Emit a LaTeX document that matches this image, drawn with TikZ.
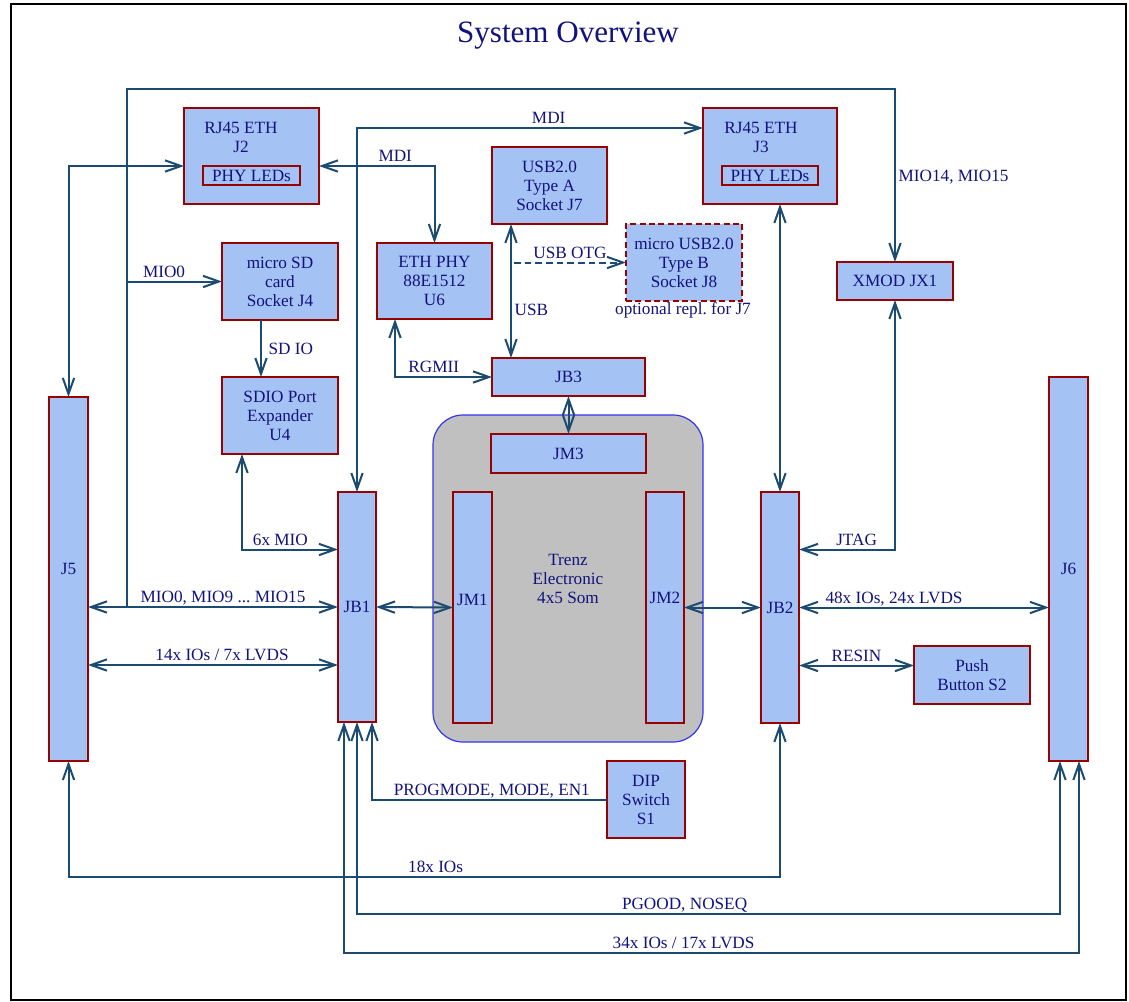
\documentclass[tikz,border=0pt]{standalone}
\usepackage{fontspec}
\setmainfont{Liberation Serif}
\usepackage{tikz}
\usetikzlibrary{arrows.meta,positioning,calc}
\definecolor{txtblue}{HTML}{12127E}
\definecolor{wire}{HTML}{1B4B70}
\definecolor{boxfill}{HTML}{A4C2F4}
\definecolor{boxline}{HTML}{990000}
\definecolor{somfill}{HTML}{C0C0C0}
\definecolor{somline}{HTML}{3535F0}
\frenchspacing
\tikzset{
  wh/.style 2 args={minimum width=#1*0.75pt, minimum height=#2*0.75pt},
  blk/.style={draw=boxline, fill=boxfill, line width=0.9pt, inner sep=0pt, outer sep=0pt, align=center},
  optblk/.style={blk, dash pattern=on 4.5pt off 2.5pt},
  som/.style={draw=somline, fill=somfill, line width=0.9pt, rounded corners=22.5pt, inner sep=0pt, outer sep=0pt, align=center},
  txt/.style={align=center, inner sep=0pt},
  conn/.style={draw=wire, line width=1.5pt},
  lbl/.style={anchor=south, text depth=0pt, inner xsep=0pt, inner ysep=2.6pt},
  lblr/.style={anchor=west, inner sep=2pt},
}

\begin{document}
\begin{tikzpicture}[x=0.75pt,y=0.75pt,yscale=-1,xscale=1,
    font=\fontsize{12.9}{14.25}\selectfont\frenchspacing, every node/.append style={text=txtblue},
    >={Straight Barb[length=12pt,width=8.5pt]}]
\useasboundingbox (0,0) rectangle (1129,1001);

%Shape: Frame
\draw [line width=1.5pt] (11,3.5) rectangle (1126,999.5);

% Title
\node [anchor=base, font=\fontsize{23.3}{28}\selectfont] (title) at (568,42.3) {System Overview};

% Ethernet jacks
\node [blk, wh={135}{96}] (J2) at (251.5,156) {};
\node [txt] (J2t) at (241,137.5) {RJ45 ETH\\J2};
\node [blk, wh={97}{19}] (J2led) at (251.5,175.5) {PHY LEDs};
\node [blk, wh={134}{96}] (J3) at (770,156) {};
\node [txt] (J3t) at (761,137.5) {RJ45 ETH\\J3};
\node [blk, wh={96}{19}] (J3led) at (770,175.5) {PHY LEDs};

% Upper blocks
\node [blk, wh={116}{77}] (J4) at (280,281.5) {micro SD\\card\\Socket J4};
\node [blk, wh={115}{76}] (U6) at (434.5,281) {ETH PHY\\88E1512\\U6};
\node [blk, wh={115}{77}] (J7) at (549.5,185.5) {USB2.0\\Type A\\Socket J7};
\node [optblk, wh={116}{77}] (J8) at (684,262.5) {micro USB2.0\\Type B\\Socket J8};
\node [txt] (J8note) at (683,310) {optional repl. for J7};
\node [blk, wh={116}{38}] (JX1) at (895,281) {XMOD JX1};
\node [blk, wh={153}{38}] (JB3) at (568.5,377) {JB3};
\node [blk, wh={116}{77}] (U4) at (280,415.5) {SDIO Port\\Expander\\U4};

% Side connectors
\node [blk, wh={39}{364}] (J5) at (68.5,579) {};
\node [txt] (J5t) at ($(J5.center)+(0,-10)$) {J5};
\node [blk, wh={39}{384}] (J6) at (1068.5,569) {J6};
\node [blk, wh={38}{230}] (JB1) at (357,607) {JB1};
\node [blk, wh={38}{231}] (JB2) at (780,607.5) {JB2};

% Module
\node [som, wh={270}{327}] (som) at (568,578.5) {Trenz\\Electronic\\4x5 Som};
\node [blk, wh={155}{39}] (JM3) at (568.5,453.5) {JM3};
\node [blk, wh={39}{231}] (JM1) at (472.5,607.5) {};
\node [txt] (JM1t) at ($(JM1.center)+(0,-7.5)$) {JM1};
\node [blk, wh={38}{231}] (JM2) at (665,607.5) {};
\node [txt] (JM2t) at ($(JM2.center)+(0,-9.5)$) {JM2};

% Switches
\node [blk, wh={116}{58}] (S2) at (972,675) {Push\\Button S2};
\node [blk, wh={78}{77}] (S1) at (646,799.5) {DIP\\Switch\\S1};

% helper points
\coordinate (miox) at ($(J5.east)+(39,0)$);
\coordinate (mioTop) at (127,89);
\coordinate (otg) at ($(J7.south west)+(22,0)$);
\coordinate (lvds) at ($(JB1.west)+(0,58)$);
\coordinate (resin) at ($(JB2.east)+(0,58)$);
\coordinate (jb1a) at ($(JB1.south)+(-13,0)$);
\coordinate (jb1c) at ($(JB1.south)+(15,0)$);
\coordinate (pgj6) at ($(J6.south)+(-8.5,0)$);
\coordinate (j6b) at ($(J6.south)+(10.5,0)$);
\coordinate (row18) at ($(J5.south)+(0,116)$);
\coordinate (rowPG) at ($(JB1.south)+(0,192)$);
\coordinate (row34) at ($(JB1.south)+(0,231)$);

% Connectors top
\draw [conn,<->] (J5.north) |- ($(J2.west)+(0,10)$);
\draw [conn,<->] ($(J2.east)+(0,10)$) -| (U6.north) node [lbl,pos=0.33] {MDI};
\draw [conn,<->] (JB1.north) |- ($(J3.west)+(0,-28)$) node [lbl,pos=0.777] {MDI};
\draw [conn,->] (miox |- JB1.west) -- (mioTop) -| (JX1.north) node [lblr,pos=0.754] {MIO14, MIO15};
\draw [conn,->] (miox |- J4.west) -- (J4.west) node [lbl,pos=0.39] {MIO0};
\draw [conn,->] ($(J4.south west)+(39,0)$) -- ($(U4.north west)+(39,0)$) node [lblr,midway,inner xsep=5pt] {SD IO};
\draw [conn,<->] ($(U6.south west)+(18,0)$) |- (JB3.west) node [lbl,pos=0.70] {RGMII};
\draw [conn,<->] ($(J7.south west)+(19,0)$) -- ($(JB3.north west)+(19,0)$) node [lblr,pos=0.64] {USB};
\draw [conn,->,dash pattern=on 5pt off 3pt] (otg |- J8.west) -- (J8.west) node [lbl,midway] {USB OTG};
\draw [conn,<->] (JB2.north |- J3.south) -- (JB2.north);
\draw [conn,<->] (JB3.south) -- (JM3.north);

% Connectors middle
\draw [conn,<->] ($(U4.south west)+(20,0)$) |- ($(JB1.west)+(0,-57.5)$) node [lbl,pos=0.70] {6x MIO};
\draw [conn,<->] (J5.east |- JB1.west) -- (JB1.west) node [lbl,pos=0.54] {MIO0, MIO9 ... MIO15};
\draw [conn,<->] (J5.east |- lvds) -- (lvds) node [lbl,pos=0.536] {14x IOs / 7x LVDS};
\draw [conn,<->] (JB1.east) -- (JM1.west);
\draw [conn,<->] (JM2.east) -- (JB2.west);
\draw [conn,<->] (JX1.south) |- ($(JB2.east)+(0,-58)$) node [lbl,pos=0.70] {JTAG};
\draw [conn,<->] (JB2.east) -- (JB2.east -| J6.west) node [lbl,pos=0.38] {48x IOs, 24x LVDS};
\draw [conn,<->] (resin) -- (S2.west |- resin) node [lbl,midway] {RESIN};

% Connectors bottom
\draw [conn,->] (S1.west) -| (jb1c) node [lbl,pos=0.245] {PROGMODE, MODE, EN1};
\draw [conn,<->] (J5.south) -- (J5.south |- row18) -| (JB2.south) node [lbl,pos=0.258] {18x IOs};
\draw [conn,<->] (JB1.south) -- (JB1.south |- rowPG) -| (pgj6) node [lbl,pos=0.233] {PGOOD, NOSEQ};
\draw [conn,<->] (jb1a) -- (jb1a |- row34) -| (j6b) node [lbl,pos=0.231] {34x IOs / 17x LVDS};

\end{tikzpicture}
\end{document}
